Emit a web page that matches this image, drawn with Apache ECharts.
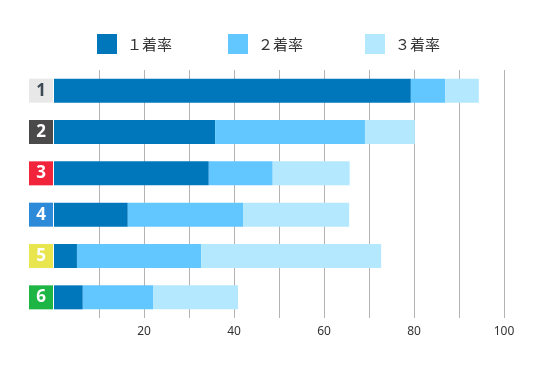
<!DOCTYPE html>
<html><head><meta charset="utf-8">
<script src="https://cdn.jsdelivr.net/npm/echarts@6/dist/echarts.min.js"></script>
<style>html,body{margin:0;padding:0;background:#fff}#c{width:540px;height:365px}</style>
</head><body><div id="c"></div>
<script>
const categories = ['1','2','3','4','5','6'];
const seriesNames = ['１着率','２着率','３着率'];
const rate1 = [79.3, 35.8, 34.4, 16.4, 5.1, 6.4];
const rate2 = [7.6, 33.3, 14.2, 25.6, 27.6, 15.6];
const rate3 = [7.5, 11.1, 17.1, 23.6, 40.0, 18.9];
const xTickLabels = [20, 40, 60, 80, 100];

const colors = ['#0077bb', '#63c7ff', '#b3e8ff'];
const boxBg = ['#e8e8e8', '#4a4a4a', '#f2243c', '#2d8ad8', '#e8e54e', '#1db544'];
const boxFg = ['#3d4a55', '#ffffff', '#ffffff', '#ffffff', '#ffffff', '#ffffff'];
const legendLeft = [97, 228, 365];
const rich = {};
categories.forEach((c, i) => {
  rich['b' + i] = {
    width: 24, height: 24, lineHeight: 24, align: 'center',
    backgroundColor: boxBg[i], color: boxFg[i],
    fontSize: 17, fontWeight: 'bold', fontFamily: 'Noto Sans'
  };
});

const chart = echarts.init(document.getElementById('c'));
const data = [rate1, rate2, rate3];
chart.setOption({
  animation: false,
  legend: seriesNames.map((n, i) => ({
    top: 34, left: legendLeft[i], padding: 0, itemWidth: 20, itemHeight: 20,
    icon: 'rect',
    textStyle: { fontSize: 15, color: '#333', fontFamily: 'Noto Sans CJK JP', padding: [0, 0, 0, 5] },
    data: [n]
  })),
  grid: { left: 54, right: 36, top: 70, bottom: 47 },
  xAxis: {
    type: 'value', min: 0, max: 100, interval: 10,
    axisLine: { show: false }, axisTick: { show: false },
    splitLine: { show: true, showMinLine: false, lineStyle: { color: '#b3b3b3', width: 1 } },
    axisLabel: {
      margin: 8, fontSize: 12, color: '#333', fontFamily: 'Noto Sans',
      formatter: v => xTickLabels.indexOf(v) >= 0 ? String(v) : ''
    }
  },
  yAxis: {
    type: 'category', inverse: true, data: categories,
    axisLine: { show: false }, axisTick: { show: false },
    axisLabel: {
      margin: 1,
      formatter: (v) => '{b' + categories.indexOf(v) + '|' + v + '}',
      rich: rich
    }
  },
  series: seriesNames.map((n, i) => ({
    name: n, type: 'bar', stack: 'total', barWidth: 24,
    itemStyle: { color: colors[i] },
    data: data[i]
  }))
});
</script></body></html>
